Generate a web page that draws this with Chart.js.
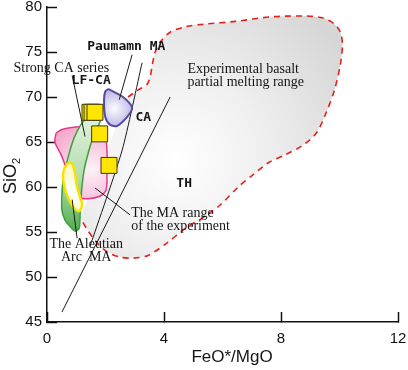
<!DOCTYPE html>
<html>
<head>
<meta charset="utf-8">
<script src="https://cdn.jsdelivr.net/npm/chart.js@4.4.1/dist/chart.umd.min.js"></script>
<style>
  html, body { margin: 0; padding: 0; background: #fff; }
</style>
</head>
<body>
<canvas id="chart" width="408" height="370"></canvas>
<script>
// axis ticks
const xTicks = [0, 4, 8, 12];
const yTicks = [45, 50, 55, 60, 65, 70, 75, 80];

// experimental basalt partial melting range (outer dashed edge)
const greyX = [2.77, 3.12, 3.42, 3.53, 3.60, 3.70, 3.87, 4.21, 4.73, 5.41, 6.44, 7.64, 8.80, 9.42, 9.83, 10.03, 10.10, 10.03, 9.83, 9.55, 9.21, 8.73, 8.15, 7.57, 7.02, 6.54, 5.92, 5.38, 4.73, 4.11, 3.46, 2.95, 2.50, 2.05, 1.68, 1.37, 1.13];
const greyY = [70.0, 70.8, 71.4, 72.3, 73.6, 75.0, 76.1, 77.2, 77.8, 78.1, 78.4, 78.9, 79.0, 78.8, 78.1, 77.2, 75.8, 73.6, 70.8, 68.3, 66.0, 64.6, 63.6, 62.7, 61.3, 60.0, 58.0, 56.7, 55.4, 53.8, 52.4, 52.1, 52.2, 52.8, 53.9, 55.3, 56.6];

// MA range of the experiment
const pinkX = [0.31, 0.51, 1.13, 1.82, 1.99, 2.05, 2.05, 2.02, 1.82, 1.40, 1.06, 0.86, 0.68, 0.48, 0.27, 0.31];
const pinkY = [66.0, 66.4, 66.7, 66.4, 65.8, 64.1, 61.3, 59.7, 59.0, 58.7, 58.9, 60.2, 61.9, 63.6, 65.0, 66.0];

// Paumamn MA
const purpleX = [2.09, 2.60, 2.91, 2.74, 2.40, 2.16, 1.99, 1.95, 1.99, 2.09];
const purpleY = [70.9, 70.0, 68.8, 67.8, 66.8, 66.9, 67.8, 69.7, 70.6, 70.9];

// LF-CA band
const greenX = [1.34, 1.13, 0.92, 0.79, 0.65, 0.55, 0.51, 0.51, 0.62, 0.79, 0.96, 1.10, 1.13, 1.16, 1.20, 1.27, 1.37, 1.51, 1.68, 1.82, 1.71, 1.34];
const greenY = [67.7, 66.8, 65.4, 64.1, 62.4, 60.8, 59.1, 57.4, 56.3, 55.6, 55.1, 55.4, 56.9, 58.6, 60.2, 61.9, 63.3, 64.9, 66.3, 67.4, 67.9, 67.7];

// Aleutian Arc MA
const yellowX = [0.72, 0.86, 0.96, 1.03, 1.13, 1.20, 1.10, 0.92, 0.75, 0.62, 0.55, 0.58, 0.72];
const yellowY = [62.7, 62.6, 61.4, 60.0, 58.9, 58.0, 57.3, 57.7, 58.6, 59.7, 60.9, 62.0, 62.7];

// boundary lines
const line1X = [4.21, 0.51];
const line1Y = [70.0, 46.1];
const line2X = [3.25, 2.57, 1.47];
const line2Y = [73.8, 64.1, 53.4];

// label leader lines
const leaders = [
  { x: [2.91, 2.47], y: [74.7, 69.7] },
  { x: [0.86, 1.30], y: [72.4, 65.6] },
  { x: [1.64, 2.84], y: [59.9, 56.9] },
  { x: [0.86, 1.03], y: [58.6, 54.3] },
];

// sample squares
const sampleX = [1.47, 1.54, 1.64, 1.80, 2.12];
const sampleY = [68.3, 68.3, 68.3, 65.9, 62.4];

const labels = [
  { text: "Paumamn MA", x: 2.71, y: 75.6, font: "bold 13px 'DejaVu Sans Mono'" },
  { text: "Strong CA series", x: 0.49, y: 73.2, font: "14px 'Liberation Serif'" },
  { text: "LF-CA", x: 1.51, y: 71.8, font: "bold 13px 'DejaVu Sans Mono'" },
  { text: "CA", x: 3.29, y: 67.7, font: "bold 13px 'DejaVu Sans Mono'" },
  { text: "TH", x: 4.69, y: 60.4, font: "bold 13px 'DejaVu Sans Mono'" },
  { text: "Experimental basalt", x: 4.80, y: 73.1, font: "14px 'Liberation Serif'", align: "left" },
  { text: "partial melting range", x: 4.80, y: 71.6, font: "14px 'Liberation Serif'", align: "left" },
  { text: "The MA range", x: 2.88, y: 57.1, font: "14px 'Liberation Serif'", align: "left" },
  { text: "of the experiment", x: 2.88, y: 55.6, font: "14px 'Liberation Serif'", align: "left" },
  { text: "The Aleutian", x: 1.34, y: 53.6, font: "14px 'Liberation Serif'" },
  { text: "Arc  MA", x: 1.34, y: 52.2, font: "14px 'Liberation Serif'" },
];

function pts(xs, ys) {
  return xs.map((v, i) => ({ x: v, y: ys[i] }));
}

function radial(cx, cy, r, stops) {
  return (c) => {
    const ch = c.chart;
    if (!ch.chartArea) return stops[stops.length - 1][1];
    const px = ch.scales.x.getPixelForValue(cx);
    const py = ch.scales.y.getPixelForValue(cy);
    const g = ch.ctx.createRadialGradient(px, py, 0, px, py, r);
    stops.forEach((s) => g.addColorStop(s[0], s[1]));
    return g;
  };
}

function vertical(yTop, yBottom, stops) {
  return (c) => {
    const ch = c.chart;
    if (!ch.chartArea) return stops[stops.length - 1][1];
    const g = ch.ctx.createLinearGradient(0, ch.scales.y.getPixelForValue(yTop), 0, ch.scales.y.getPixelForValue(yBottom));
    stops.forEach((s) => g.addColorStop(s[0], s[1]));
    return g;
  };
}

const base = { showLine: true, pointRadius: 0, pointHoverRadius: 0, tension: 0.3 };

const datasets = [
  {
    ...base, order: 0, showLine: false, data: pts(sampleX, sampleY),
    pointStyle: "rect", pointRadius: 11.3, backgroundColor: "#ffe500",
    borderColor: "#3b3a10", borderWidth: 1,
  },
  ...leaders.map((l) => ({
    ...base, order: 1, tension: 0, data: pts(l.x, l.y),
    borderColor: "#1a1a1a", borderWidth: 1,
  })),
  {
    ...base, order: 2, data: pts(yellowX, yellowY), fill: "shape",
    backgroundColor: radial(0.9, 59.5, 30, [[0, "#ffffff"], [1, "#fff6b8"]]),
    borderColor: "#f6e300", borderWidth: 2.5,
  },
  {
    ...base, order: 3, data: pts(greenX, greenY), fill: "shape",
    backgroundColor: vertical(68, 55, [[0, "#e4f2e0"], [0.55, "#b2dcaa"], [1, "#4fae4f"]]),
    borderColor: "#3f9f3f", borderWidth: 1.5,
  },
  {
    ...base, order: 4, data: pts(purpleX, purpleY), fill: "shape",
    backgroundColor: radial(2.3, 68.7, 26, [[0, "#fbfaff"], [1, "#a49edb"]]),
    borderColor: "#574aa3", borderWidth: 2,
  },
  {
    ...base, order: 5, data: pts(pinkX, pinkY), fill: "shape",
    backgroundColor: radial(1.5, 62, 55, [[0, "#fdf2f7"], [1, "#f29bc4"]]),
    borderColor: "#e43a8d", borderWidth: 1.5,
  },
  {
    ...base, order: 6, tension: 0, data: pts(line1X, line1Y),
    borderColor: "#1a1a1a", borderWidth: 1,
  },
  {
    ...base, order: 6, tension: 0.2, data: pts(line2X, line2Y),
    borderColor: "#1a1a1a", borderWidth: 1,
  },
  {
    ...base, order: 7, data: pts(greyX, greyY),
    borderColor: "#e3201b", borderWidth: 1.6, borderDash: [6, 5],
  },
  {
    ...base, order: 8, data: pts(greyX, greyY), fill: "shape", borderWidth: 0,
    backgroundColor: radial(4.4, 63, 200, [[0, "#ffffff"], [0.45, "#efefef"], [1, "#d6d6d6"]]),
  },
];

const labelPlugin = {
  id: "labelPlugin",
  afterDatasetsDraw(chart) {
    const { ctx, scales } = chart;
    ctx.save();
    ctx.fillStyle = "#161616";
    ctx.textBaseline = "middle";
    labels.forEach((l) => {
      ctx.font = l.font;
      ctx.textAlign = l.align || "center";
      ctx.fillText(l.text, scales.x.getPixelForValue(l.x), scales.y.getPixelForValue(l.y));
    });
    // axis titles
    ctx.font = "17px 'Liberation Sans'";
    ctx.textAlign = "center";
    ctx.fillText("FeO*/MgO", 232, 357);
    ctx.translate(11, 176);
    ctx.rotate(-Math.PI / 2);
    ctx.font = "18px 'Liberation Sans'";
    ctx.textAlign = "left";
    const w = ctx.measureText("SiO").width;
    ctx.fillText("SiO", -(w + 6) / 2, 0);
    ctx.font = "11px 'Liberation Sans'";
    ctx.fillText("2", -(w + 6) / 2 + w, 6);
    ctx.restore();
  },
};

function noPad(s) {
  s.paddingTop = 0;
  s.paddingBottom = 0;
  s.paddingLeft = 0;
  s.paddingRight = 0;
}

const axisCommon = {
  type: "linear",
  grid: { drawOnChartArea: false, drawTicks: true, tickLength: -10, tickWidth: 1.5, tickColor: "#111" },
  border: { color: "#111", width: 1.5 },
};

new Chart(document.getElementById("chart"), {
  type: "scatter",
  data: { datasets },
  plugins: [labelPlugin],
  options: {
    responsive: false,
    animation: false,
    layout: { autoPadding: false, padding: { top: 7, right: 10, left: 0, bottom: 0 } },
    plugins: { legend: { display: false }, tooltip: { enabled: false } },
    scales: {
      x: {
        ...axisCommon,
        min: 0, max: 12,
        afterBuildTicks: (s) => { s.ticks = xTicks.map((v) => ({ value: v })); },
        afterFit: (s) => { s.height = 48; noPad(s); },
        ticks: { padding: 18, color: "#111", font: { family: "'Liberation Sans'", size: 15 } },
      },
      y: {
        ...axisCommon,
        min: 45, max: 80,
        afterBuildTicks: (s) => { s.ticks = yTicks.map((v) => ({ value: v })); },
        afterFit: (s) => { s.width = 47; noPad(s); },
        ticks: { padding: 15, color: "#111", font: { family: "'Liberation Sans'", size: 15 } },
      },
    },
  },
});
</script>
</body>
</html>
